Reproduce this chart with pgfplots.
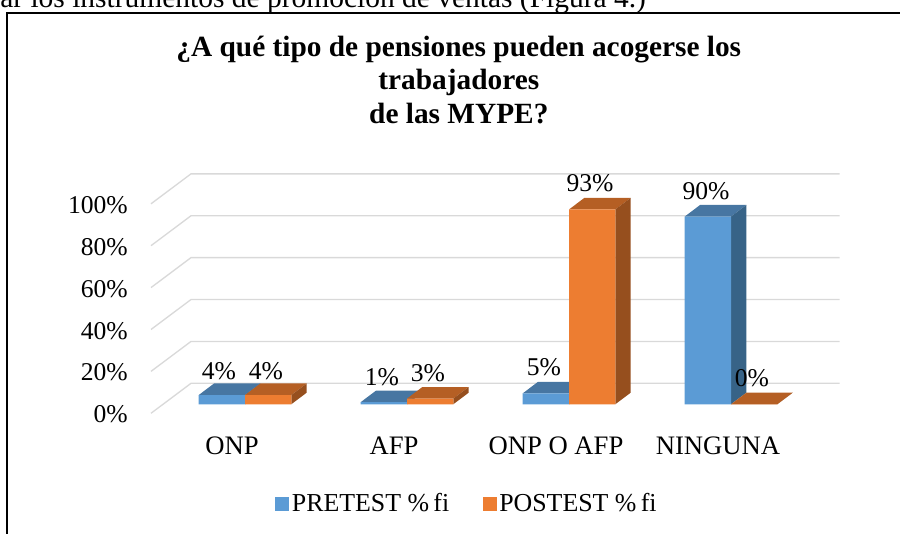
\documentclass[border=0pt]{standalone}
\usepackage{fontspec}
\setmainfont{Liberation Serif}
\usepackage{pgfplots}
\pgfplotsset{compat=1.18}

\definecolor{preF}{HTML}{5B9BD5}
\definecolor{preT}{HTML}{4776A2}
\definecolor{preS}{HTML}{376387}
\definecolor{postF}{HTML}{ED7D31}
\definecolor{postT}{HTML}{B55F24}
\definecolor{postS}{HTML}{964F1E}
\definecolor{gridc}{HTML}{D9D9D9}

\newcommand{\chartfont}{\fontsize{19.2}{22}\selectfont}

% top and side face of one bar: left edge, right edge, value, colours
\newcommand{\faces}[5]{%
  \pgfmathsetmacro{\xb}{#2+0.095}%
  \pgfmathsetmacro{\xa}{#1+0.095}%
  \pgfmathsetmacro{\yb}{#3+5.54}%
  \addplot[fill=#4, draw=none, forget plot] coordinates {(#1,#3) (\xa,\yb) (\xb,\yb) (#2,#3)} -- cycle;
  \addplot[fill=#5, draw=none, forget plot] coordinates {(#2,0) (\xb,5.54) (\xb,\yb) (#2,#3)} -- cycle;
}

\begin{document}
\begin{tikzpicture}
\path[use as bounding box] (0,0) rectangle (675pt,-400.5pt);
% page text above the chart and the frame
\node[anchor=base west, inner sep=0pt, font=\fontsize{22.1}{26}\selectfont] at (0pt,-5.5pt)
  {ar los instrumentos de promoción de ventas (Figura 4.)};
\draw[black, line width=1pt] (5.3pt,-402pt) -- (5.3pt,-9.8pt) -- (677pt,-9.8pt);

\begin{axis}[
    at={(123pt,-303.2pt)}, anchor=south west,
    x=121.5pt, y=1.571pt,
    xmin=-0.5, xmax=3.5, ymin=0, ymax=100,
    clip=false,
    axis line style={draw=none},
    major tick length=0pt,
    xtick={0,1,2,3},
    xticklabels={ONP,AFP,ONP O AFP,NINGUNA},
    ytick={0,20,40,60,80,100},
    yticklabels={0\%,20\%,40\%,60\%,80\%,100\%},
    tick label style={font=\chartfont},
    yticklabel style={anchor=east, inner xsep=0pt, xshift=-27pt, yshift=-7.7pt},
    xticklabel style={anchor=base, xshift=-9.75pt, yshift=-37.6pt, font=\fontsize{20}{24}\selectfont},
    title={¿A qué tipo de pensiones pueden acogerse los\\trabajadores\\de las MYPE?},
    title style={at={(0.455,1.51)}, anchor=center, align=center,
      font=\fontsize{22}{25}\selectfont\bfseries},
    legend style={draw=none, fill=none, at={(0.468,-0.475)}, anchor=center,
      legend columns=2, font=\fontsize{19.4}{22}\selectfont, inner sep=0pt,
      /tikz/every even column/.append style={column sep=23pt}},
    legend image code/.code={\fill[#1] (0pt,-5.2pt) rectangle (10.5pt,5.2pt);},
]
% floor and wall gridlines: front edge, back edge, right end
\addplot[gridc, line width=1pt, forget plot] coordinates {(-0.5802,-4.3) (-0.3333,10) (3.671,10)};
\addplot[gridc, line width=1pt, forget plot] coordinates {(-0.5802,15.7) (-0.3333,30) (3.671,30)};
\addplot[gridc, line width=1pt, forget plot] coordinates {(-0.5802,35.7) (-0.3333,50) (3.671,50)};
\addplot[gridc, line width=1pt, forget plot] coordinates {(-0.5802,55.7) (-0.3333,70) (3.671,70)};
\addplot[gridc, line width=1pt, forget plot] coordinates {(-0.5802,75.7) (-0.3333,90) (3.671,90)};
\addplot[gridc, line width=1pt, forget plot] coordinates {(-0.5802,95.7) (-0.3333,110) (3.671,110)};

% depth faces
\faces{-0.2858}{0}{4.4}{preT}{preS}
\faces{0}{0.2858}{4.4}{postT}{postS}
\faces{0.7142}{1}{1}{preT}{preS}
\faces{1}{1.2858}{2.7}{postT}{postS}
\faces{1.7142}{2}{5.2}{preT}{preS}
\faces{2}{2.2858}{93}{postT}{postS}
\faces{2.7142}{3}{89.6}{preT}{preS}
\faces{3}{3.2858}{0}{postT}{postS}

% front faces
\addplot[ybar, bar width=34.7pt, bar shift=-17.35pt, fill=preF, draw=none]
  coordinates {(0,4.4) (1,1) (2,5.2) (3,89.6)};
\addlegendentry{PRETEST \%\,fi}
\addplot[ybar, bar width=34.7pt, bar shift=17.35pt, fill=postF, draw=none]
  coordinates {(0,4.4) (1,2.7) (2,93) (3,0)};
\addlegendentry{POSTEST \%\,fi}

% value labels
\node[font=\chartfont] at (axis cs:-0.1605,16) {4\%};
\node[font=\chartfont] at (axis cs:0.1296,16) {4\%};
\node[font=\chartfont] at (axis cs:0.8457,12.8) {1\%};
\node[font=\chartfont] at (axis cs:1.1296,14.7) {3\%};
\node[font=\chartfont] at (axis cs:1.8457,17.8) {5\%};
\node[font=\chartfont] at (axis cs:2.1296,105.7) {93\%};
\node[font=\chartfont] at (axis cs:2.8457,101.9) {90\%};
\node[font=\chartfont] at (axis cs:3.1296,12.3) {0\%};
\end{axis}
\end{tikzpicture}
\end{document}
